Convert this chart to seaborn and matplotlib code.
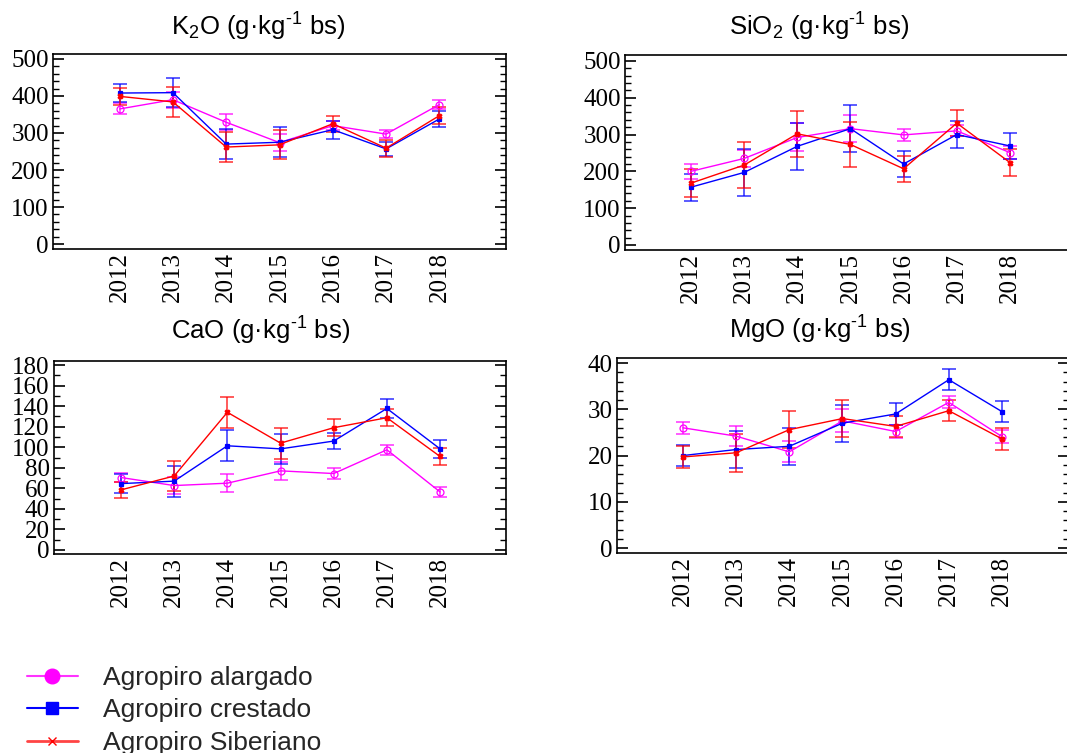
import matplotlib
matplotlib.use("Agg")
import matplotlib.pyplot as plt
import seaborn as sns
from matplotlib.lines import Line2D
from matplotlib.ticker import MultipleLocator

# ---------------- data ----------------
years = [2012, 2013, 2014, 2015, 2016, 2017, 2018]
series_names = ["Agropiro alargado", "Agropiro crestado", "Agropiro Siberiano"]

k2o_alargado = [365, 390, 329, 274, 320, 297, 377]
k2o_alargado_err = [15, 22, 21, 23, 13, 10, 12]
k2o_crestado = [408, 409, 270, 275, 309, 257, 338]
k2o_crestado_err = [24, 40, 40, 40, 24, 20, 22]
k2o_siberiano = [399, 384, 262, 268, 325, 259, 347]
k2o_siberiano_err = [23, 40, 40, 39, 22, 23, 22]

sio2_alargado = [200, 235, 292, 316, 299, 310, 251]
sio2_alargado_err = [20, 22, 38, 36, 17, 15, 17]
sio2_crestado = [157, 197, 268, 316, 220, 300, 269]
sio2_crestado_err = [37, 63, 63, 63, 36, 36, 35]
sio2_siberiano = [168, 217, 302, 273, 207, 331, 224]
sio2_siberiano_err = [39, 63, 63, 62, 36, 36, 37]

cao_alargado = [70.5, 62.7, 65.0, 77.0, 74.4, 97.5, 56.5]
cao_alargado_err = [4, 8, 9, 9, 5, 5, 5]
cao_crestado = [64.6, 67.0, 101.4, 98.4, 106.0, 137.7, 98.4]
cao_crestado_err = [9, 15, 15, 14.5, 8, 9, 9]
cao_siberiano = [58.5, 72.0, 134.0, 104.0, 119.0, 128.7, 91.0]
cao_siberiano_err = [8, 15, 15, 15, 8.5, 8.5, 8.5]

mgo_alargado = [26.0, 24.2, 20.8, 27.5, 25.2, 31.5, 24.1]
mgo_alargado_err = [1.3, 2.2, 2.3, 2.5, 1.3, 1.3, 1.4]
mgo_crestado = [20.0, 21.3, 22.0, 27.0, 29.0, 36.4, 29.5]
mgo_crestado_err = [2.3, 4.0, 4.0, 4.0, 2.4, 2.3, 2.3]
mgo_siberiano = [19.7, 20.6, 25.6, 28.0, 26.3, 29.7, 23.6]
mgo_siberiano_err = [2.3, 4.1, 4.0, 4.0, 2.3, 2.3, 2.3]

titles = [r"K$_\mathregular{2}$O (g·kg$^\mathregular{‐1}$ bs)",
          r"SiO$_\mathregular{2}$ (g·kg$^\mathregular{‐1}$ bs)",
          r"CaO (g·kg$^\mathregular{‐1}$ bs)",
          r"MgO (g·kg$^\mathregular{‐1}$ bs)"]

# ---------------- style ----------------
sns.set_style("white")
plt.rcParams["font.family"] = ["Liberation Sans", "DejaVu Sans"]
plt.rcParams["mathtext.fontset"] = "custom"
plt.rcParams["mathtext.rm"] = "Liberation Sans"
plt.rcParams["mathtext.it"] = "Liberation Sans:italic"
plt.rcParams["mathtext.bf"] = "Liberation Sans:bold"

colors = ["#ff00ff", "#0000ff", "#ff0000"]
markers = ["o", "s", "X"]
mfcs = ["none", "#0000ff", "#ff0000"]
msizes = [5, 3.5, 3.5]

W, H = 1067, 753
fig = plt.figure(figsize=(W / 100, H / 100), dpi=100)

# axes rectangles in pixels: (left, top, right, bottom); xlim chosen so that
# 2012..2018 fall at the same pixel positions as the reference
panels = [
    dict(px=(53, 54, 506, 249), xlim=(2010.75, 2019.25), ylim=(-13.5, 513.5), major=100, minor=20,
         data=[(k2o_alargado, k2o_alargado_err), (k2o_crestado, k2o_crestado_err), (k2o_siberiano, k2o_siberiano_err)],
         title_xy=(258, 27)),
    dict(px=(625, 55, 1095, 250), xlim=(2010.76, 2019.60), ylim=(-13.6, 516), major=100, minor=20,
         data=[(sio2_alargado, sio2_alargado_err), (sio2_crestado, sio2_crestado_err), (sio2_siberiano, sio2_siberiano_err)],
         title_xy=(819, 27)),
    dict(px=(54, 361, 506, 554), xlim=(2010.74, 2019.24), ylim=(-3.9, 183.9), major=20, minor=10,
         data=[(cao_alargado, cao_alargado_err), (cao_crestado, cao_crestado_err), (cao_siberiano, cao_siberiano_err)],
         title_xy=(261, 331)),
    dict(px=(617, 358, 1069, 553), xlim=(2010.76, 2019.26), ylim=(-1.08, 41.1), major=10, minor=2,
         data=[(mgo_alargado, mgo_alargado_err), (mgo_crestado, mgo_crestado_err), (mgo_siberiano, mgo_siberiano_err)],
         title_xy=(820, 330)),
]

for p, title in zip(panels, titles):
    l, t, r, b = p["px"]
    ax = fig.add_axes([l / W, 1 - b / H, (r - l) / W, (b - t) / H])
    for (vals, errs), c, m, mfc, ms in zip(p["data"], colors, markers, mfcs, msizes):
        ax.errorbar(years, vals, yerr=errs, fmt="none", ecolor=c, elinewidth=1.2,
                    capsize=5, capthick=1.2, alpha=0.75, zorder=2)
        sns.lineplot(x=years, y=vals, ax=ax, color=c, linewidth=1.0, marker=m,
                     markersize=ms, markerfacecolor=mfc, markeredgecolor=c,
                     markeredgewidth=0.9, legend=False, zorder=3)
    ax.set_xlim(*p["xlim"])
    ax.set_ylim(*p["ylim"])
    ax.set_xticks(years)
    ax.set_xticklabels([str(y) for y in years], rotation=90)
    ax.yaxis.set_major_locator(MultipleLocator(p["major"]))
    ax.yaxis.set_minor_locator(MultipleLocator(p["minor"]))
    ax.tick_params(axis="both", labelsize=18, labelfontfamily="Liberation Serif", labelcolor="black")
    ax.tick_params(axis="x", length=0, pad=2)
    ax.tick_params(axis="y", which="major", direction="in", length=8, width=1.2,
                   left=True, right=True, pad=3, color="black")
    ax.tick_params(axis="y", which="minor", direction="in", length=4, width=1.0,
                   left=True, right=True, color="black")
    ax.set_xlabel("")
    ax.set_ylabel("")
    for s in ax.spines.values():
        s.set_color("black")
        s.set_linewidth(1.2)
    fig.text(p["title_xy"][0] / W, 1 - p["title_xy"][1] / H, title,
             ha="center", va="center", fontsize=18.5, color="black")

handles = [
    Line2D([], [], color="#ff33ff", marker="o", markersize=10.5, markerfacecolor="#ff00ff",
           markeredgecolor="#ff00ff", linewidth=1.5),
    Line2D([], [], color="#0000ff", marker="s", markersize=8.5, markerfacecolor="#0000ff",
           markeredgecolor="#0000ff", linewidth=1.5),
    Line2D([], [], color="#ff4444", marker="x", markersize=6, markeredgecolor="#ff0000",
           linewidth=2.0),
]
fig.legend(handles, series_names, loc="upper left", bbox_to_anchor=(27 / W, 1 - 666 / H),
           frameon=False, fontsize=19, handlelength=1.93, handletextpad=0.95,
           labelspacing=0.32, borderpad=0, borderaxespad=0)

fig.savefig("out.png", dpi=100)
